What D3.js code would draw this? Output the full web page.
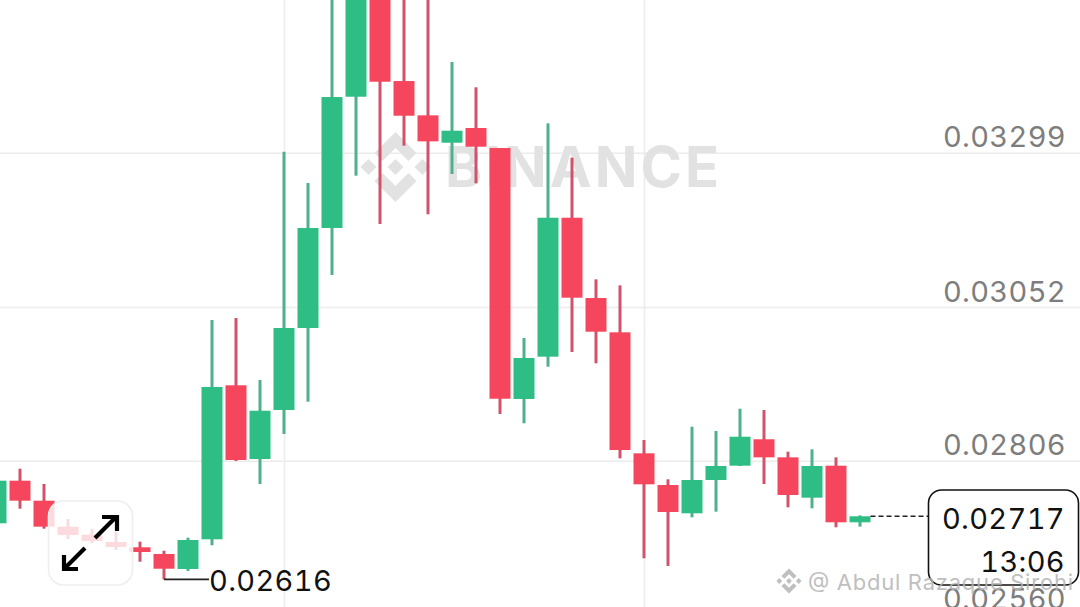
<!DOCTYPE html>
<html>
<head>
<meta charset="utf-8">
<script src="https://cdn.jsdelivr.net/npm/d3@7"></script>
<style>
  html, body { margin: 0; padding: 0; background: #fff; overflow: hidden; }
  svg { display: block; font-family: Inter, sans-serif; font-variant-numeric: tabular-nums; }
  .grid line { stroke: #ececec; stroke-width: 1.5; }
  .grid path { display: none; }
</style>
</head>
<body>
<script>
const width = 1080
const height = 607

/* Candles, oldest first. The ones around the peak leave the top of the picture, so those values are estimates. */
const opens = [0.027058, 0.027740, 0.027420, 0.027004, 0.026876, 0.026759, 0.026674, 0.026567, 0.026327, 0.026802, 0.029267, 0.028087, 0.028872, 0.030184, 0.031785, 0.033886, 0.035600, 0.034137, 0.033588, 0.033150, 0.033385, 0.033065, 0.029048, 0.029725, 0.031949, 0.030664, 0.030115, 0.028178, 0.027671, 0.027218, 0.027751, 0.027980, 0.028403, 0.028114, 0.027468, 0.027980, 0.027074]
const closes = [0.027740, 0.027420, 0.027004, 0.026871, 0.026775, 0.026679, 0.026599, 0.026331, 0.026791, 0.029240, 0.028071, 0.028860, 0.030184, 0.031785, 0.033881, 0.035600, 0.034126, 0.033582, 0.033172, 0.033342, 0.033086, 0.029052, 0.029704, 0.031949, 0.030669, 0.030125, 0.028231, 0.027682, 0.027239, 0.027751, 0.027975, 0.028444, 0.028114, 0.027511, 0.027975, 0.027074, 0.027170]
const highs = [0.027751, 0.027932, 0.027687, 0.027127, 0.026967, 0.026924, 0.026764, 0.026619, 0.026828, 0.030312, 0.030344, 0.029352, 0.033006, 0.032505, 0.035900, 0.036100, 0.036200, 0.035600, 0.035700, 0.034442, 0.034037, 0.033065, 0.030024, 0.033460, 0.032910, 0.030963, 0.030867, 0.028391, 0.027762, 0.028604, 0.028535, 0.028892, 0.028872, 0.028204, 0.028242, 0.028114, 0.027185]
const lows = [0.027047, 0.027292, 0.026972, 0.026807, 0.026743, 0.026631, 0.026443, 0.026160, 0.026295, 0.026706, 0.028055, 0.027687, 0.028487, 0.029004, 0.031032, 0.032622, 0.031849, 0.033102, 0.032004, 0.032649, 0.032500, 0.028807, 0.028659, 0.029565, 0.029800, 0.029619, 0.028098, 0.026498, 0.026375, 0.027154, 0.027244, 0.027975, 0.027687, 0.027314, 0.027298, 0.026994, 0.027004]

const priceTicks = [0.03299, 0.03052, 0.02806, 0.0256]
const timeGrid = [12, 27]
const lastPrice = 0.02717
const lowPrice = 0.02616
const countdown = "13:06"
const lowIndex = 7

const green = "#2ebd85"
const red = "#f6465d"
const greenWick = "#4fb08a"
const redWick = "#cf5469"

const candles = d3.range(opens.length).map(i => ({
  i, open: opens[i], close: closes[i], high: highs[i], low: lows[i], up: closes[i] >= opens[i]
}))

/* Scales: index to x, price to y. */
const x = d3.scaleLinear().domain([0, opens.length - 1]).range([-4, 860])
const y = d3.scaleLinear().domain([0.02806, 0.03299]).range([460.7, 152.7])

const bodyWidth = 21
const labelSpacing = 0.35

const svg = d3.select("body")
  .append("svg")
  .attr("width", width)
  .attr("height", height)

/* Grid lines. */
svg.append("g")
  .attr("class", "grid")
  .call(d3.axisLeft(y).tickValues(priceTicks).tickSize(-width).tickFormat(""))
svg.append("g")
  .attr("class", "grid")
  .call(d3.axisBottom(x).tickValues(timeGrid).tickSize(height).tickFormat(""))

/* Binance watermark sits under the candles. */
const mark = svg.append("g").attr("fill", "#e2e2e2")
function binanceLogo(g, cx, cy, s) {
  const diamond = (dx, dy, r) => `M${cx+dx*s},${cy+(dy-r)*s}L${cx+(dx+r)*s},${cy+dy*s}L${cx+dx*s},${cy+(dy+r)*s}L${cx+(dx-r)*s},${cy+dy*s}Z`
  const chevron = dir => {
    const p = (a, b) => `${cx+a*s},${cy+b*dir*s}`
    return `M${p(0,-35)}L${p(21,-14)}L${p(13,-6)}L${p(0,-19)}L${p(-13,-6)}L${p(-21,-14)}Z`
  }
  g.append("path").attr("d", diamond(0, 0, 8))
  g.append("path").attr("d", diamond(-27, 0, 8))
  g.append("path").attr("d", diamond(27, 0, 8))
  g.append("path").attr("d", chevron(1))
  g.append("path").attr("d", chevron(-1))
}
binanceLogo(mark, 395.5, 167, 1)
mark.append("text")
  .attr("x", 445)
  .attr("y", 187)
  .attr("font-size", 56)
  .attr("font-weight", 700)
  .attr("textLength", 274)
  .attr("lengthAdjust", "spacing")
  .text("BINANCE")

/* Candles. */
const g = svg.append("g")
g.selectAll("line.wick")
  .data(candles)
  .enter()
  .append("line")
  .attr("class", "wick")
  .attr("x1", d => x(d.i))
  .attr("x2", d => x(d.i))
  .attr("y1", d => y(d.high))
  .attr("y2", d => y(d.low))
  .attr("stroke", d => d.up ? greenWick : redWick)
  .attr("stroke-width", 3)
g.selectAll("rect.body")
  .data(candles)
  .enter()
  .append("rect")
  .attr("class", "body")
  .attr("x", d => x(d.i) - bodyWidth / 2)
  .attr("width", bodyWidth)
  .attr("y", d => y(Math.max(d.open, d.close)))
  .attr("height", d => Math.abs(y(d.open) - y(d.close)))
  .attr("fill", d => d.up ? green : red)

/* Price labels. */
const axisRightSide = svg.append("g")
  .attr("transform", "translate(1066,0)")
  .call(d3.axisLeft(y).tickValues(priceTicks).tickSize(0).tickPadding(0).tickFormat(d3.format(".5f")))
axisRightSide.select(".domain").remove()
axisRightSide.selectAll("text")
  .attr("dy", "-16.4")
  .attr("dominant-baseline", "central")
  .attr("fill", "#7d7d7d")
  .attr("font-family", "Inter, sans-serif")
  .attr("font-size", 29)
  .attr("letter-spacing", labelSpacing)

/* Low marker. */
svg.append("line")
  .attr("x1", x(lowIndex)).attr("x2", 209)
  .attr("y1", y(lowPrice)).attr("y2", y(lowPrice))
  .attr("stroke", "#222").attr("stroke-width", 1.6)
svg.append("text")
  .attr("x", 209).attr("y", y(lowPrice) + 1)
  .attr("dominant-baseline", "central")
  .attr("font-size", 29)
  .attr("letter-spacing", labelSpacing)
  .attr("fill", "#111")
  .text(d3.format(".5f")(lowPrice))

/* Last price line and box. */
svg.append("line")
  .attr("x1", x(opens.length - 1) + bodyWidth / 2).attr("x2", 928)
  .attr("y1", y(lastPrice)).attr("y2", y(lastPrice))
  .attr("stroke", "#222").attr("stroke-width", 1.5).attr("stroke-dasharray", "5 3")
svg.append("rect")
  .attr("x", 928.5).attr("y", 490).attr("width", 150).attr("height", 95).attr("rx", 13)
  .attr("fill", "#fff").attr("stroke", "#111").attr("stroke-width", 1.6)
svg.append("text")
  .attr("x", 1065).attr("y", 518).attr("text-anchor", "end").attr("dominant-baseline", "central")
  .attr("font-size", 29).attr("letter-spacing", labelSpacing).attr("fill", "#111")
  .text(d3.format(".5f")(lastPrice))
svg.append("text")
  .attr("x", 1065).attr("y", 561).attr("text-anchor", "end").attr("dominant-baseline", "central")
  .attr("font-size", 29).attr("letter-spacing", labelSpacing).attr("fill", "#111")
  .text(countdown)

/* Expand button floating over the chart. */
const button = svg.append("g")
button.append("rect")
  .attr("x", 48.5).attr("y", 501).attr("width", 84).attr("height", 84).attr("rx", 15)
  .attr("fill", "rgba(255,255,255,0.8)").attr("stroke", "#eeeeee").attr("stroke-width", 1.6)
button.append("path")
  .attr("d", "M95,538L116,517M102,517H117V531M85,548L64,569M64,555V569H78")
  .attr("fill", "none").attr("stroke", "#000").attr("stroke-width", 4.2)

/* Author watermark on top of everything. */
const author = svg.append("g").attr("fill", "#b5b5b5").attr("opacity", 0.85)
binanceLogo(author, 789, 581, 0.36)
author.append("text")
  .attr("x", 808).attr("y", 590)
  .attr("font-size", 22)
  .attr("textLength", 265)
  .attr("lengthAdjust", "spacing")
  .text("@ Abdul Razaque Sirohi")
</script>
</body>
</html>
